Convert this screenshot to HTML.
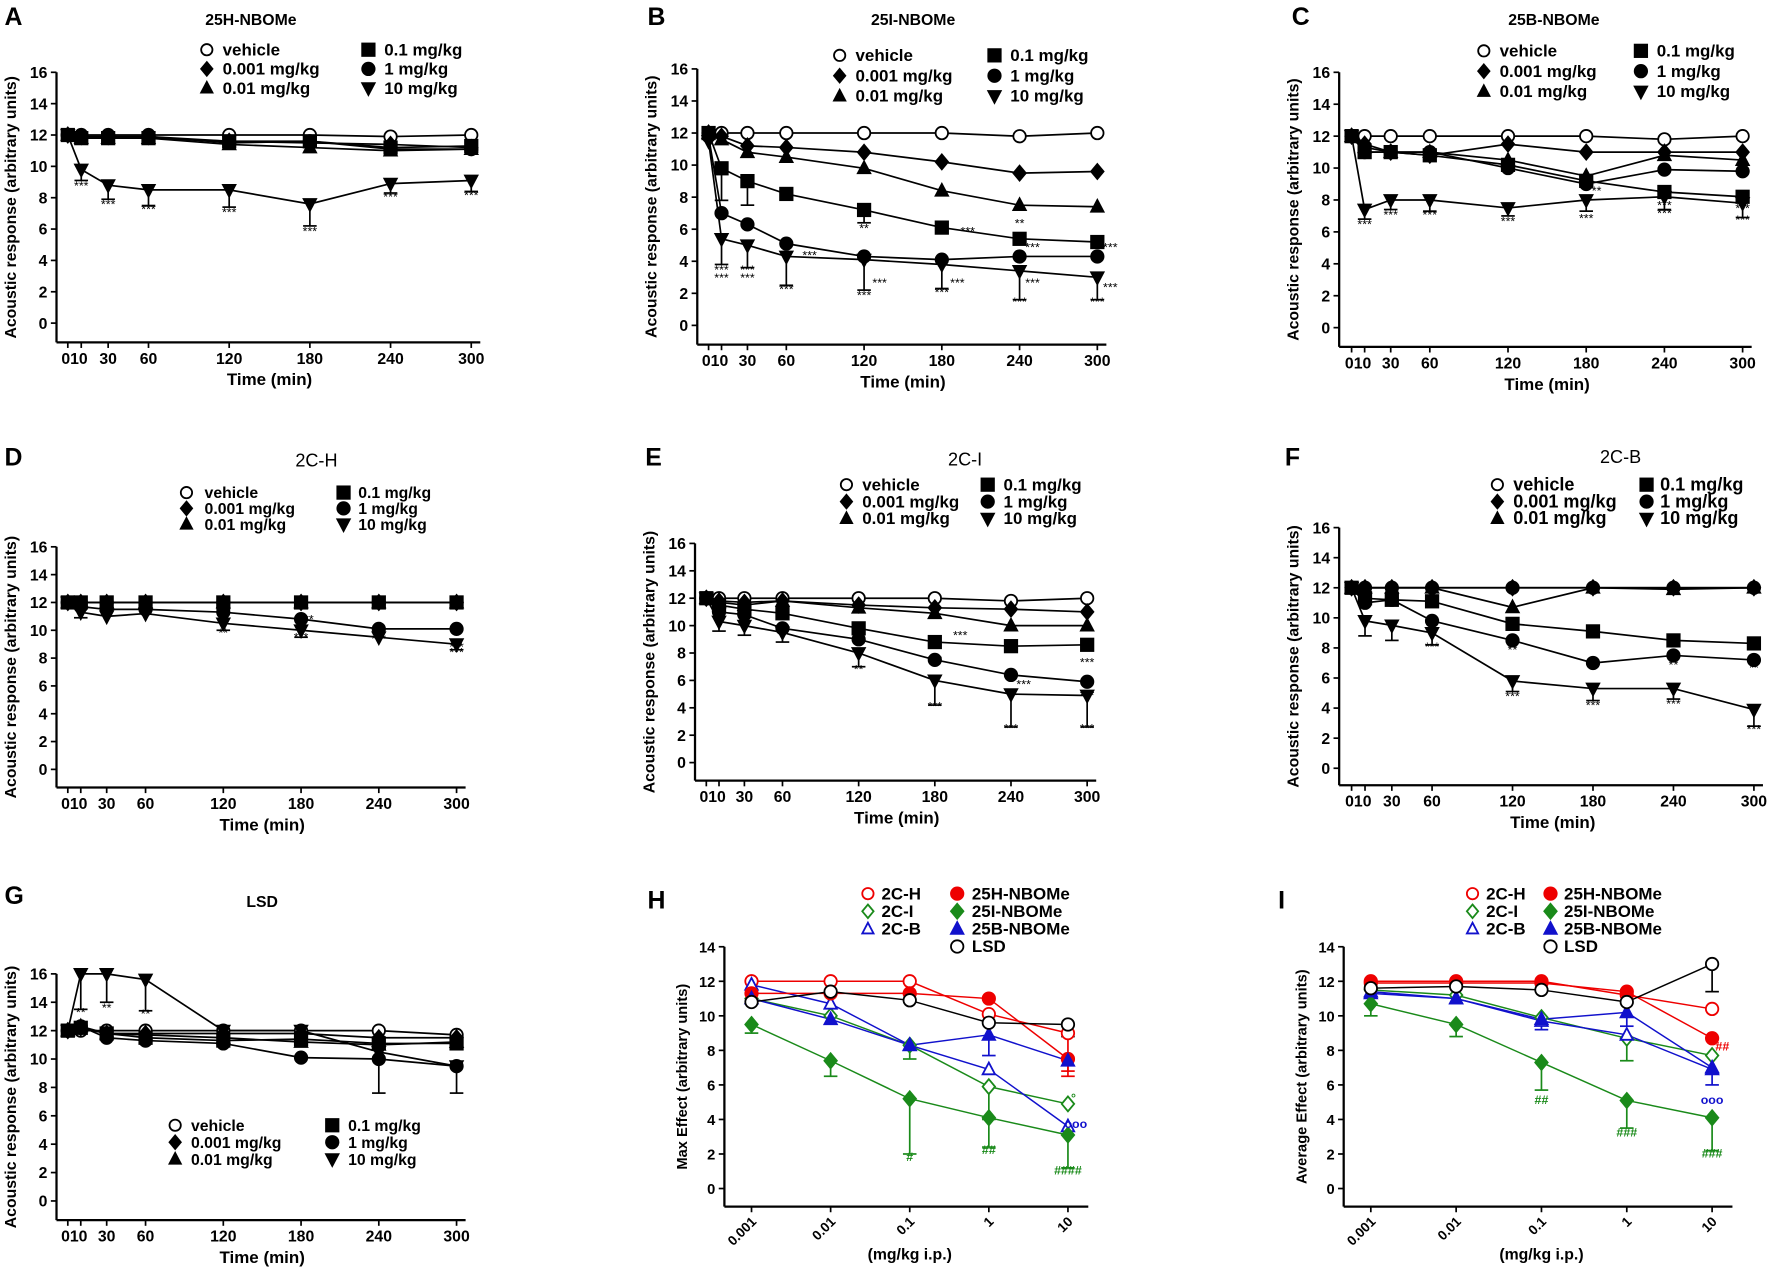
<!DOCTYPE html>
<html><head><meta charset="utf-8"><style>
html,body{margin:0;padding:0;background:#fff}
svg{display:block}
text{font-family:"Liberation Sans",Arial,sans-serif;font-weight:bold}
</style></head><body>
<svg id="s" width="1772" height="1271" viewBox="0 0 1568 1125" preserveAspectRatio="none" xmlns="http://www.w3.org/2000/svg"></svg>
<script>
const S=document.getElementById('s');let h='';
const T=[0,10,30,60,120,180,240,300];
function mk(t,x,y,r,col,fill){
  const f=fill?col:'#fff';const st=`stroke="${col}" stroke-width="1.6" fill="${f}"`;
  if(t=='o')return `<circle cx="${x}" cy="${y}" r="${r}" ${st}/>`;
  if(t=='s')return `<rect x="${x-r}" y="${y-r}" width="${2*r}" height="${2*r}" ${st}/>`;
  if(t=='d')return `<polygon points="${x},${y-r*1.2} ${x+r},${y} ${x},${y+r*1.2} ${x-r},${y}" ${st}/>`;
  if(t=='t')return `<polygon points="${x},${y-r*1.1} ${x+r},${y+r*0.8} ${x-r},${y+r*0.8}" ${st}/>`;
  if(t=='v')return `<polygon points="${x},${y+r*1.1} ${x+r},${y-r*0.8} ${x-r},${y-r*0.8}" ${st}/>`;
  return '';
}
const styles=[['o',0],['d',1],['t',1],['s',1],['o',1],['v',1]];
const lab1=['vehicle','0.001 mg/kg','0.01 mg/kg'],lab2=['0.1 mg/kg','1 mg/kg','10 mg/kg'];
function timePanel(p){
  const {ax,x0,x1,y16,y0,bot,letter,lx,ly,title,tx,ty,tfs,tw,data,leg,fs,stars}=p;
  const X=t=>x0+(x1-x0)*t/300,Y=v=>y0+(y16-y0)*v/16;
  h+=`<text x="${lx}" y="${ly}" font-size="22">${letter}</text>`;
  h+=`<text x="${tx}" y="${ty}" font-size="${tfs||14}" style="font-weight:${tw||'bold'}" text-anchor="middle">${title}</text>`;
  h+=`<line x1="${ax}" y1="${y16}" x2="${ax}" y2="${bot}" stroke="#000" stroke-width="2"/>`;
  h+=`<line x1="${ax}" y1="${bot}" x2="${x1+8}" y2="${bot}" stroke="#000" stroke-width="2"/>`;
  for(let v=0;v<=16;v+=2){h+=`<line x1="${ax-5}" y1="${Y(v)}" x2="${ax}" y2="${Y(v)}" stroke="#000" stroke-width="1.5"/><text x="${ax-8}" y="${Y(v)+5}" font-size="14" text-anchor="end">${v}</text>`;}
  T.forEach(t=>{h+=`<line x1="${X(t)}" y1="${bot}" x2="${X(t)}" y2="${bot+5}" stroke="#000" stroke-width="1.5"/>`;});
  const tl=[['010',X(5)],['30',X(30)],['60',X(60)],['120',X(120)],['180',X(180)],['240',X(240)],['300',X(300)]];
  tl.forEach(([s,x])=>{h+=`<text x="${x}" y="${bot+19}" font-size="14" text-anchor="middle">${s}</text>`;});
  h+=`<text x="${(x0+x1)/2}" y="${bot+38}" font-size="15" text-anchor="middle">Time (min)</text>`;
  const cy=(y16+bot)/2;
  h+=`<text transform="translate(${ax-36},${cy}) rotate(-90)" font-size="14" text-anchor="middle">Acoustic response (arbitrary units)</text>`;
  data.forEach((d,i)=>{
    if(d.err){d.err.forEach((e,j)=>{if(e==null)return;const x=X(T[j]);h+=`<line x1="${x}" y1="${Y(d.v[j])}" x2="${x}" y2="${Y(e)}" stroke="#000" stroke-width="1.5"/><line x1="${x-6}" y1="${Y(e)}" x2="${x+6}" y2="${Y(e)}" stroke="#000" stroke-width="1.5"/>`;});}
    h+=`<polyline points="${d.v.map((v,j)=>X(T[j])+','+Y(v)).join(' ')}" fill="none" stroke="#000" stroke-width="1.5"/>`;
  });
  data.forEach((d,i)=>{const [t,f]=styles[i];d.v.forEach((v,j)=>{h+=mk(t,X(T[j]),Y(v),5.5,'#000',f);});});
  (stars||[]).forEach(([t,v,s])=>{h+=`<text x="${X(t)}" y="${Y(v)}" font-size="11" style="font-weight:normal" text-anchor="middle">${s||'***'}</text>`;});
  const [c1x,c2x,ry,rh,c1t,c2t]=leg;const f=fs||15;
  for(let i=0;i<3;i++){const [t1,f1]=styles[i],[t2,f2]=styles[i+3];
    h+=mk(t1,c1x,ry+i*rh-5,5,'#000',f1)+`<text x="${c1t||c1x+14}" y="${ry+i*rh}" font-size="${f}">${lab1[i]}</text>`;
    h+=mk(t2,c2x,ry+i*rh-5,5.5,'#000',f2)+`<text x="${c2t||c2x+14}" y="${ry+i*rh}" font-size="${f}">${lab2[i]}</text>`;}
}
const D=(a)=>a.map(v=>({v}));
function withErr(arr,idx,err){arr[idx].err=err;return arr;}
timePanel({ax:50,x0:60,x1:417,y16:64,y0:286,bot:303,letter:'A',lx:4,ly:22,title:'25H-NBOMe',tx:222,ty:22,leg:[183,326,49,17],
 data:withErr(D([[12,12,12,12,12,12,11.9,12],[12,11.9,11.9,11.9,11.6,11.5,11.4,11.2],[12,11.8,11.8,11.8,11.4,11.2,11,11.1],[12,11.8,11.8,11.8,11.6,11.6,11.2,11.3],[12,11.9,11.9,11.9,11.5,11.6,11.1,11.1],[12,9.8,8.8,8.5,8.5,7.6,8.9,9.1]]),5,[null,9.1,7.9,7.5,7.4,6.2,8.3,8.4]),
 stars:[[10,8.5],[30,7.3],[60,7],[120,6.8],[180,5.6],[240,7.8],[300,7.9]]});
timePanel({ax:617,x0:627,x1:971,y16:61,y0:288,bot:305,letter:'B',lx:573,ly:22,title:'25I-NBOMe',tx:808,ty:22,leg:[743,880,54,18],
 data:withErr(withErr(D([[12,12,12,12,12,12,11.8,12],[12,11.8,11.2,11.1,10.8,10.2,9.5,9.6],[12,11.6,10.8,10.5,9.8,8.4,7.5,7.4],[12,9.8,9,8.2,7.2,6.1,5.4,5.2],[11.8,7,6.3,5.1,4.3,4.1,4.3,4.3],[11.5,5.4,5,4.3,4.1,3.8,3.4,3]]),5,[null,3.8,3.6,2.5,2.2,2.3,1.6,1.6]),3,[null,7.8,7.5,null,6.4,null,null,null]),
 stars:[[10,3.2],[10,2.7],[30,3.2],[30,2.7],[60,2],[120,1.6],[180,1.8],[240,1.2],[300,1.2],[180,3.4,'**'],[120,5.8,'**'],[240,6.1,'**'],[300,9,'*'],[78,4.1],[132,2.4],[192,2.4],[250,2.4],[310,2.1],[200,5.6],[250,4.6],[310,4.6]]});
timePanel({ax:1185,x0:1196,x1:1542,y16:64,y0:290,bot:307,letter:'C',lx:1143,ly:22,title:'25B-NBOMe',tx:1375,ty:22,leg:[1313,1452,50,18],
 data:withErr(D([[12,12,12,12,12,12,11.8,12],[12,11.5,11,10.8,11.5,11,11,11],[12,11.3,11,11,10.5,9.5,10.8,10.5],[12,11,11,10.8,10.2,9.2,8.5,8.2],[12,11,11,11,10,9,9.9,9.8],[12,7.4,8,8,7.5,8,8.2,7.8]]),5,[null,6.8,7.4,7.3,7,7.3,7.4,6.9]),
 stars:[[10,6.2],[30,6.8],[60,6.8],[120,6.4],[180,6.6],[240,6.9],[240,7.4],[300,6.5],[300,7.2],[188,8.3,'**']]});
timePanel({ax:50,x0:60,x1:404,y16:484,y0:681,bot:697,letter:'D',lx:4,ly:412,title:'2C-H',tx:280,ty:413,tfs:16,tw:'normal',leg:[165,304,441,14,181,317],fs:14,
 data:withErr(D([[12,12,12,12,12,12,12,12],[12,12,12,12,12,12,12,12],[12,12,12,12,12,12,12,12],[12,12,12,12,12,12,12,12],[12,11.7,11.5,11.5,11.3,10.8,10.1,10.1],[12,11.3,11,11.2,10.5,10,9.5,9]]),5,[null,10.9,null,null,10,9.5,null,8.6]),
 stars:[[120,9.5,'**'],[180,9.2],[186,10.5,'**'],[240,9.1],[300,8.5],[300,8.1]]});
timePanel({ax:615,x0:625,x1:962,y16:481,y0:675,bot:691,letter:'E',lx:571,ly:412,title:'2C-I',tx:854,ty:412,tfs:16,tw:'normal',leg:[749,874,434,15,763,888],fs:15,
 data:withErr(D([[12,12,12,12,12,12,11.8,12],[12,11.8,11.7,11.8,11.5,11.3,11.2,11],[12,11.7,11.5,11.8,11.3,10.9,10,10],[12,11.5,11.2,10.9,9.8,8.8,8.5,8.6],[12,11,10.8,9.8,9,7.5,6.4,5.9],[12,10.3,10,9.5,8,6,5,4.9]]),5,[null,9.6,9.3,8.8,7,4.2,2.6,2.6]),
 stars:[[120,6.5,'**'],[180,3.8],[240,2.2],[300,2.2],[180,7.2],[240,8.3],[300,7],[200,9],[250,5.4],[300,4.6]]});
timePanel({ax:1185,x0:1196,x1:1552,y16:467,y0:680,bot:695,letter:'F',lx:1137,ly:412,title:'2C-B',tx:1434,ty:410,tfs:16,tw:'normal',leg:[1325,1457,434,15,1339,1469],fs:16,
 data:withErr(D([[12,12,12,12,12,12,12,12],[12,12,12,12,12,12,12,12],[12,12,12,12,10.7,12,11.9,12],[12,11.3,11.2,11.1,9.6,9.1,8.5,8.3],[12,11,11.2,9.8,8.5,7,7.5,7.2],[12,9.8,9.5,9,5.8,5.3,5.3,3.9]]),5,[null,8.8,8.5,8.2,5.1,4.5,4.6,2.8]),
 stars:[[60,7.8],[120,7.6,'**'],[120,4.5],[180,6.4,'**'],[180,3.9],[240,6.6,'**'],[240,4],[300,6.4,'**'],[300,2.3]]});
timePanel({ax:50,x0:60,x1:404,y16:862,y0:1063,bot:1080,letter:'G',lx:4,ly:800,title:'LSD',tx:232,ty:803,leg:[155,294,1001,15],fs:14,
 data:withErr(D([[12,12,12,12,12,12,12,11.7],[12,12.2,11.8,11.8,11.8,11.8,11.5,11.5],[12,12.3,11.8,11.7,11.5,11.2,11,11.2],[12,12.2,11.8,11.5,11.3,11.4,11.1,11.1],[12,12.3,11.5,11.3,11.1,10.1,10,9.5],[12,16,16,15.6,12,12,10.5,9.5]]),5,[null,13.5,14,13.4,null,null,7.6,7.6]),
 stars:[[10,13,'**'],[30,13.3,'**'],[60,12.9,'**']]});
const doses=['0.001','0.01','0.1','1','10'];
const ser=[['2C-H','#e00','o',0],['2C-I','#1a8a1a','d',0],['2C-B','#11c','t',0],['25H-NBOMe','#e00','o',1],['25I-NBOMe','#1a8a1a','d',1],['25B-NBOMe','#11c','t',1],['LSD','#000','o',0]];
function dosePanel(p){
  const {ax,x0,x1,y14,y0,bot,letter,lx,ly,ylab,data,leg,errs,marks}=p;
  const X=i=>x0+(x1-x0)*i/4,Y=v=>y0+(y14-y0)*v/14;
  h+=`<text x="${lx}" y="${ly}" font-size="22">${letter}</text>`;
  h+=`<line x1="${ax}" y1="${y14}" x2="${ax}" y2="${bot}" stroke="#000" stroke-width="2"/><line x1="${ax}" y1="${bot}" x2="${x1+18}" y2="${bot}" stroke="#000" stroke-width="2"/>`;
  for(let v=0;v<=14;v+=2)h+=`<line x1="${ax-5}" y1="${Y(v)}" x2="${ax}" y2="${Y(v)}" stroke="#000" stroke-width="1.5"/><text x="${ax-8}" y="${Y(v)+5}" font-size="13" text-anchor="end">${v}</text>`;
  doses.forEach((d,i)=>{h+=`<line x1="${X(i)}" y1="${bot}" x2="${X(i)}" y2="${bot+5}" stroke="#000" stroke-width="1.5"/><text transform="translate(${X(i)+5},${bot+14}) rotate(-45)" font-size="12" text-anchor="end">${d}</text>`;});
  h+=`<text x="${(x0+x1)/2}" y="${bot+47}" font-size="14" text-anchor="middle">(mg/kg i.p.)</text>`;
  h+=`<text transform="translate(${ax-33},${(y14+bot)/2}) rotate(-90)" font-size="13" text-anchor="middle">${ylab}</text>`;
  errs.forEach(([s,i,e])=>{const c=ser[s][1],x=X(i);h+=`<line x1="${x}" y1="${Y(data[s][i])}" x2="${x}" y2="${Y(e)}" stroke="${c}" stroke-width="1.5"/><line x1="${x-6}" y1="${Y(e)}" x2="${x+6}" y2="${Y(e)}" stroke="${c}" stroke-width="1.5"/>`;});
  data.forEach((d,s)=>{h+=`<polyline points="${d.map((v,i)=>X(i)+','+Y(v)).join(' ')}" fill="none" stroke="${ser[s][1]}" stroke-width="1.3"/>`;});
  data.forEach((d,s)=>{d.forEach((v,i)=>{h+=mk(ser[s][2],X(i),Y(v),5.5,ser[s][1],ser[s][3]);});});
  marks.forEach(([i,v,s,c])=>{h+=`<text x="${X(i)}" y="${Y(v)}" font-size="11" text-anchor="middle" fill="${c}">${s}</text>`;});
  const [c1,t1,c2,t2,ry,rh]=leg;
  [0,1,2].forEach(k=>{h+=mk(ser[k][2],c1,ry+k*rh-5,5,ser[k][1],0)+`<text x="${t1}" y="${ry+k*rh}" font-size="15">${ser[k][0]}</text>`;});
  [3,4,5,6].forEach((k,j)=>{h+=mk(ser[k][2],c2,ry+j*rh-5,5.5,ser[k][1],ser[k][3])+`<text x="${t2}" y="${ry+j*rh}" font-size="15">${ser[k][0]}</text>`;});
}
dosePanel({ax:641,x0:665,x1:945,y14:838,y0:1052,bot:1068,letter:'H',lx:573,ly:804,ylab:'Max Effect (arbitrary units)',leg:[768,780,847,860,796,15.6],
 data:[[12,12,12,10.1,9],[11,10,8.3,5.9,4.9],[11.8,10.7,8.3,6.9,3.6],[11.3,11.3,11.3,11,7.5],[9.5,7.4,5.2,4.1,3.1],[11,9.8,8.3,8.9,7.4],[10.8,11.4,10.9,9.6,9.5]],
 errs:[[4,0,9],[4,1,6.5],[4,2,2],[4,3,2.4],[4,4,1.2],[1,3,4],[5,3,7.7],[0,4,6.5],[3,4,6.8],[6,4,8.8],[1,2,7.5]],
 marks:[[2,1.6,'#','#1a8a1a'],[3,2,'##','#1a8a1a'],[4,0.8,'####','#1a8a1a'],[4.1,3.5,'ooo','#11c'],[4.07,5,'°','#1a8a1a']]});
dosePanel({ax:1189,x0:1213,x1:1515,y14:838,y0:1052,bot:1068,letter:'I',lx:1131,ly:804,ylab:'Average Effect (arbitrary units)',leg:[1303,1315,1372,1384,796,15.6],
 data:[[12,12,12,11.2,10.4],[11.5,11.2,9.9,8.7,7.7],[11.3,11,9.7,8.9,6.9],[11.9,11.9,11.9,11.4,8.7],[10.7,9.5,7.3,5.1,4.1],[11.4,11,9.8,10.2,7],[11.6,11.7,11.5,10.8,13]],
 errs:[[4,0,10],[4,1,8.8],[4,2,5.7],[4,3,3.5],[4,4,2.2],[6,4,11.4],[1,3,7.4],[5,3,9.4],[5,4,6],[2,2,9.2]],
 marks:[[2,4.9,'##','#1a8a1a'],[3,3,'###','#1a8a1a'],[4,1.8,'###','#1a8a1a'],[4.12,8,'##','#e00'],[4,4.9,'ooo','#11c']]});
S.innerHTML=h;
</script>
</body></html>
